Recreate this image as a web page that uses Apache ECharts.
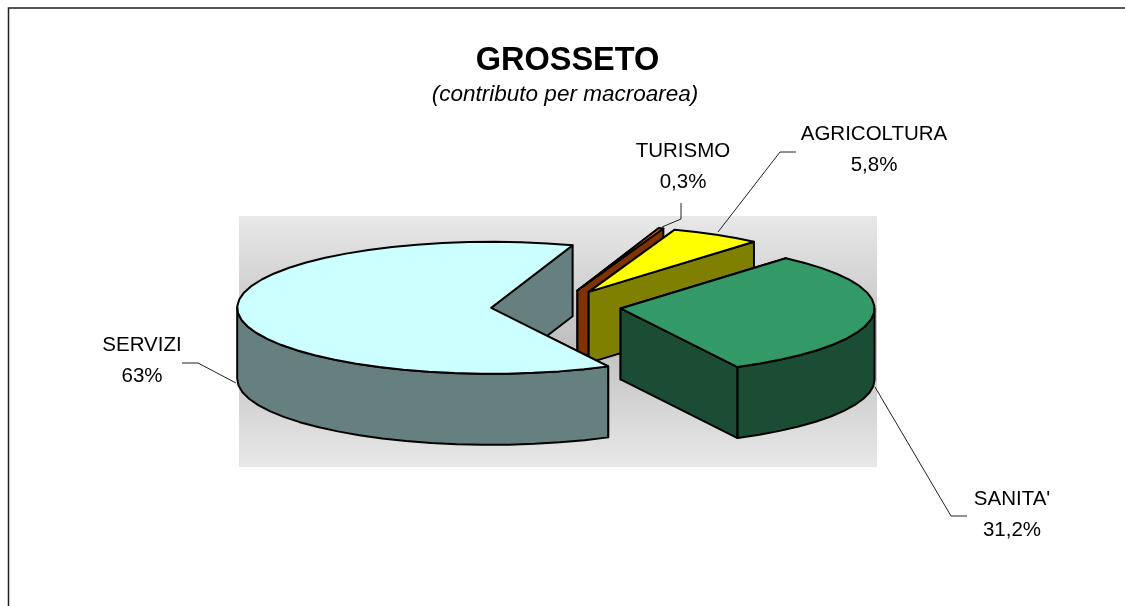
<!DOCTYPE html>
<html>
<head>
<meta charset="utf-8">
<style>
  html, body { margin: 0; padding: 0; background: #fff; }
  #chart { width: 1125px; height: 606px; }
</style>
<script src="https://cdn.jsdelivr.net/npm/echarts@6/dist/echarts.min.js"></script>
</head>
<body>
<div id="chart"></div>
<script>
  // clockwise order, starting where SERVIZI ends
  var categories = ['TURISMO', 'AGRICOLTURA', 'SANITA\'', 'SERVIZI'];
  var shares = [0.3, 5.8, 31.2, 63];
  var shareLabels = ['0,3%', '5,8%', '31,2%', '63%'];
  var topColors = ['#FF6600', '#FFFF00', '#339966', '#CCFFFF'];
  var sideColors = ['#803300', '#808000', '#1A4D33', '#668080'];

  // pie geometry in pixels
  var pie = { cx: 556, cy: 306.5, rx: 254, ry: 66, depth: 71, explode: 65, firstAngle: 18.7 };
  var total = shares.reduce(function (a, b) { return a + b; }, 0);

  // label centre and leader line for each slice
  var labelPos = [[683, 151], [874, 134], [1012, 499], [142, 345]];
  var leaders = [
    [[662, 227], [681, 219], [681, 203]],
    [[718, 232], [780, 152], [796, 152]],
    [[875, 387], [951, 516], [967, 516]],
    [[236, 383], [198, 363], [182, 363]]
  ];

  var RAD = Math.PI / 180;

  // angle is clockwise from the top of the ellipse
  function rim(c, deg, dy) {
    return [c[0] + pie.rx * Math.sin(deg * RAD), c[1] - pie.ry * Math.cos(deg * RAD) + (dy || 0)];
  }

  function arc(c, a0, a1, dy) {
    var pts = [];
    var n = Math.max(1, Math.ceil(Math.abs(a1 - a0) / 6));
    for (var i = 0; i <= n; i++) pts.push(rim(c, a0 + (a1 - a0) * i / n, dy));
    return pts;
  }

  function face(points, fill) {
    return {
      type: 'polygon',
      shape: { points: points },
      style: { fill: fill, stroke: '#000', lineWidth: 2, lineJoin: 'round' }
    };
  }

  function radialFace(c, deg, fill) {
    var p = rim(c, deg);
    return face([c, p, [p[0], p[1] + pie.depth], [c[0], c[1] + pie.depth]], fill);
  }

  function renderSlice(params, api) {
    var i = params.dataIndex;
    var before = 0;
    for (var k = 0; k < i; k++) before += shares[k];
    var start = pie.firstAngle + before / total * 360;
    var end = start + api.value(0) / total * 360;
    var mid = (start + end) / 2 * RAD;
    var c = [
      pie.cx + pie.explode * Math.sin(mid),
      pie.cy - pie.explode * (pie.ry / pie.rx) * Math.cos(mid)
    ];

    var children = [radialFace(c, start, sideColors[i]), radialFace(c, end, sideColors[i])];

    // outer wall, front half only
    var w0 = Math.max(start, 90), w1 = Math.min(end, 270);
    if (w1 > w0) {
      children.push(face(arc(c, w0, w1, 0).concat(arc(c, w1, w0, pie.depth)), sideColors[i]));
    }
    children.push(face([c].concat(arc(c, start, end, 0)), topColors[i]));

    // leader line and label
    children.push({
      type: 'polyline',
      shape: { points: leaders[i] },
      style: { fill: null, stroke: '#222', lineWidth: 1 }
    });
    children.push({
      type: 'text',
      style: {
        text: categories[i] + '\n' + shareLabels[i],
        x: labelPos[i][0],
        y: labelPos[i][1] - 15,
        align: 'center',
        verticalAlign: 'top',
        fill: '#000',
        font: '20.5px "Liberation Sans"',
        lineHeight: 31
      }
    });
    return { type: 'group', children: children };
  }

  var myChart = echarts.init(document.getElementById('chart'), null, { renderer: 'canvas' });

  var option = {
    animation: false,
    backgroundColor: '#fff',
    title: [
      {
        text: 'GROSSETO',
        left: 567.5,
        top: 45,
        textAlign: 'center',
        padding: 0,
        textStyle: { fontFamily: 'Liberation Sans', fontSize: 32.5, fontWeight: 'bold', color: '#000' }
      },
      {
        text: '(contributo per macroarea)',
        left: 565,
        top: 83,
        textAlign: 'center',
        padding: 0,
        textStyle: { fontFamily: 'Liberation Sans', fontSize: 22.5, fontWeight: 'normal', fontStyle: 'italic', color: '#000' }
      }
    ],
    graphic: [
      {
        type: 'polyline',
        silent: true,
        z: 0,
        shape: { points: [[8.5, 606], [8.5, 8], [1125, 8]] },
        style: { fill: null, stroke: '#222', lineWidth: 1.5 }
      },
      {
        type: 'rect',
        silent: true,
        z: 0,
        shape: { x: 239, y: 216, width: 638, height: 251 },
        style: {
          fill: new echarts.graphic.LinearGradient(0, 0, 0, 1, [
            { offset: 0, color: '#E8E8E8' },
            { offset: 0.5, color: '#C0C0C0' },
            { offset: 1, color: '#E8E8E8' }
          ])
        }
      }
    ],
    series: [
      {
        type: 'custom',
        coordinateSystem: 'none',
        silent: true,
        z: 5,
        renderItem: renderSlice,
        data: shares.map(function (v, i) { return { name: categories[i], value: [v] }; })
      }
    ]
  };

  myChart.setOption(option);

  window.addEventListener('resize', function () {
    myChart.resize();
  });
</script>
</body>
</html>
